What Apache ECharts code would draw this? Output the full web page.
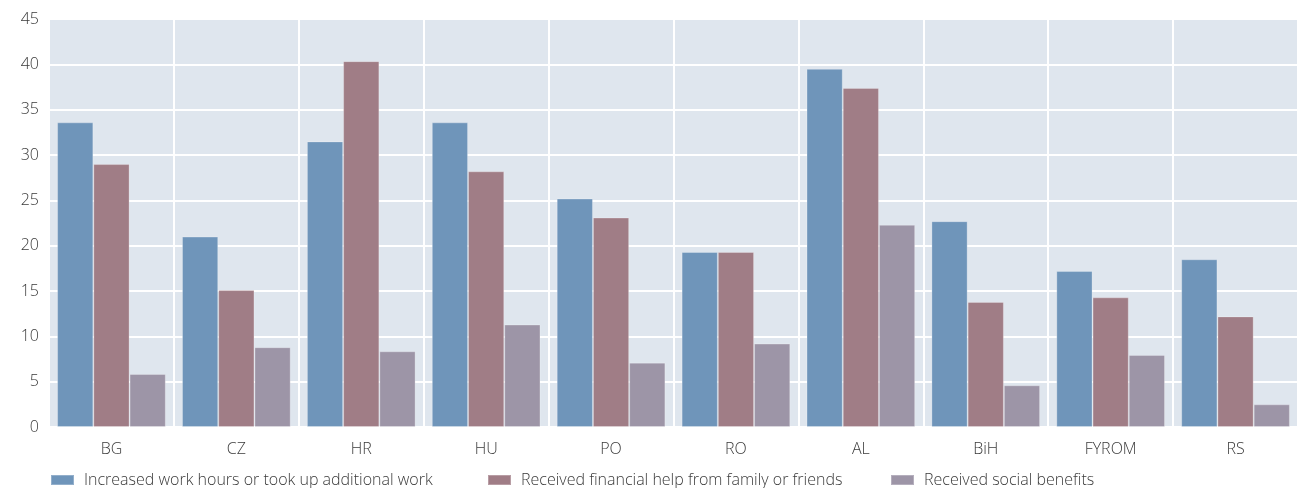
<!DOCTYPE html>
<html><head><meta charset="utf-8">
<script src="https://cdn.jsdelivr.net/npm/echarts@6/dist/echarts.min.js"></script>
<style>html,body{margin:0;padding:0;background:#fff}#c{width:1298px;height:488px}</style>
</head><body><div id="c"></div>
<script>
const categories = ['BG','CZ','HR','HU','PO','RO','AL','BiH','FYROM','RS'];
const seriesNames = ['Increased work hours or took up additional work','Received financial help from family or friends','Received social benefits'];
const workHours = [33.6, 21.0, 31.5, 33.6, 25.2, 19.3, 39.5, 22.7, 17.2, 18.5];
const familyHelp = [29.0, 15.1, 40.35, 28.2, 23.1, 19.3, 37.4, 13.8, 14.3, 12.2];
const socialBenefits = [5.85, 8.8, 8.35, 11.3, 7.1, 9.2, 22.3, 4.6, 7.95, 2.5];
const yTicks = {min: 0, max: 45, interval: 5};
const colors = ['#6f95ba','#a07d86','#9d95a7'];
const font = '"Open Sans", "DejaVu Sans", sans-serif';
const legendLefts = [50, 487, 890];
const chart = echarts.init(document.getElementById('c'), null, {renderer:'canvas'});
const mk = (name, data, i) => ({
  name, type:'bar', data, barGap:'0%', barCategoryGap:'13%',
  itemStyle:{color:colors[i], borderColor:'rgba(255,255,255,0.25)', borderWidth:1},
  emphasis:{disabled:true}
});
chart.setOption({
  animation:false,
  grid:{left:49, right:0, top:19, bottom:61, containLabel:false, show:true, backgroundColor:'#dfe6ee', borderWidth:0},
  legend: seriesNames.map((n, i) => ({
    top:472, left:legendLefts[i], padding:0, itemWidth:23, itemHeight:10,
    icon:'rect', selectedMode:false,
    textStyle:{fontFamily:font, fontSize:16, color:'#3a3a3a', fontWeight:300, padding:[0,0,0,5]},
    data:[n]
  })),
  xAxis:{
    type:'category', data:categories,
    axisLine:{show:false}, axisTick:{show:false},
    axisLabel:{fontFamily:font, fontSize:16, color:'#3a3a3a', margin:14, fontWeight:300},
    splitLine:{show:true, interval:0, lineStyle:{color:'#ffffff', width:2}}
  },
  yAxis:{
    type:'value', min:yTicks.min, max:yTicks.max, interval:yTicks.interval,
    axisLine:{show:false}, axisTick:{show:false},
    axisLabel:{fontFamily:font, fontSize:16, color:'#3a3a3a', margin:10, fontWeight:300},
    splitLine:{show:true, lineStyle:{color:'#ffffff', width:2}}
  },
  series:[mk(seriesNames[0], workHours, 0), mk(seriesNames[1], familyHelp, 1), mk(seriesNames[2], socialBenefits, 2)]
});
</script></body></html>
